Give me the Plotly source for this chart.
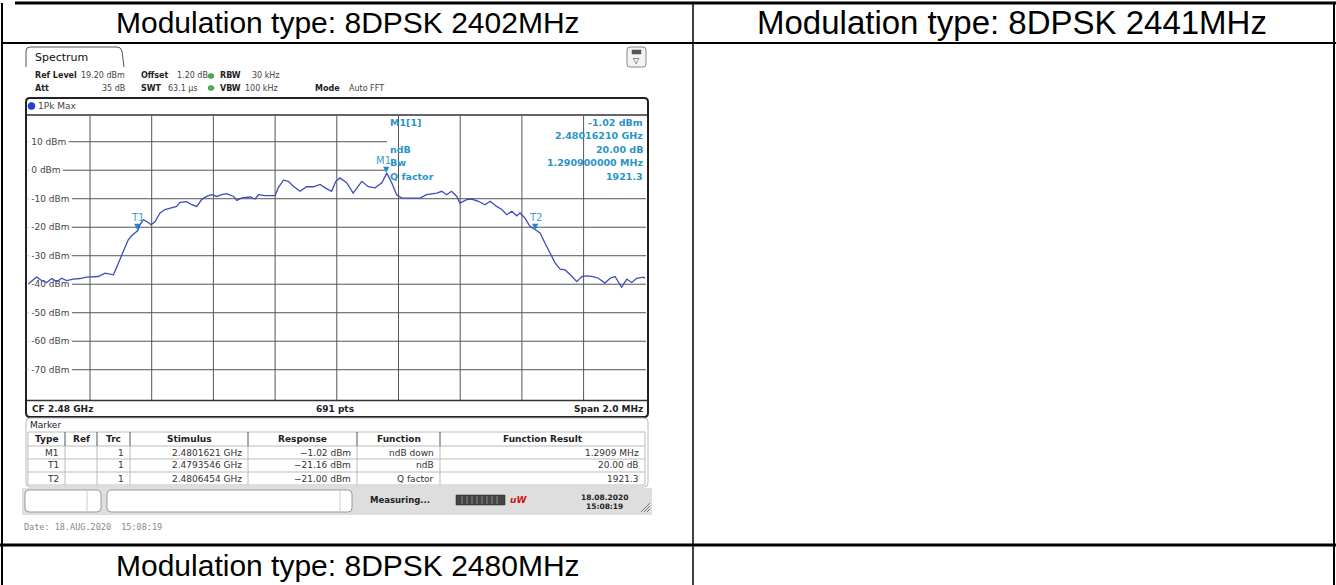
import plotly.graph_objects as go

W, H = 1336, 585


def X(px):
    return px / W


def Y(py):
    return 1 - py / H


# ---------------- data ----------------
cell_titles = ["Modulation type: 8DPSK 2402MHz", "Modulation type: 8DPSK 2441MHz",
               "Modulation type: 8DPSK 2480MHz"]

freq_mhz = [2479.000, 2479.027, 2479.043, 2479.060, 2479.076, 2479.092, 2479.108, 2479.124,
            2479.146, 2479.168, 2479.189, 2479.206, 2479.227, 2479.249, 2479.265, 2479.276,
            2479.292, 2479.303, 2479.313, 2479.324, 2479.335, 2479.355, 2479.362, 2479.373,
            2479.384, 2479.398, 2479.411, 2479.427, 2479.443, 2479.465, 2479.481, 2479.492,
            2479.513, 2479.530, 2479.546, 2479.562, 2479.578, 2479.594, 2479.611, 2479.627,
            2479.643, 2479.665, 2479.676, 2479.692, 2479.719, 2479.735, 2479.746, 2479.767,
            2479.800, 2479.810, 2479.827, 2479.843, 2479.859, 2479.881, 2479.902, 2479.924,
            2479.946, 2479.962, 2479.983, 2479.997, 2480.010, 2480.032, 2480.053, 2480.081,
            2480.102, 2480.124, 2480.146, 2480.162, 2480.178, 2480.194, 2480.210, 2480.237,
            2480.270, 2480.291, 2480.324, 2480.340, 2480.356, 2480.372, 2480.389, 2480.399,
            2480.421, 2480.437, 2480.459, 2480.480, 2480.497, 2480.518, 2480.535, 2480.551,
            2480.567, 2480.583, 2480.594, 2480.610, 2480.626, 2480.645, 2480.659, 2480.675,
            2480.691, 2480.708, 2480.724, 2480.740, 2480.757, 2480.778, 2480.794, 2480.810,
            2480.831, 2480.848, 2480.869, 2480.886, 2480.902, 2480.923, 2480.940, 2480.956,
            2480.972, 2480.994, 2481.000]
level_dbm = [-39.9, -37.5, -38.7, -39.4, -38.0, -39.1, -37.9, -38.7,
             -38.2, -38.0, -37.5, -37.4, -37.3, -36.1, -36.4, -36.7,
             -32.6, -29.7, -26.8, -24.4, -23.0, -21.16, -19.1, -17.4,
             -18.0, -19.1, -18.0, -15.0, -13.8, -13.2, -12.7, -11.3,
             -11.0, -12.1, -12.7, -10.3, -9.2, -8.6, -9.2, -8.6,
             -8.2, -9.2, -10.6, -9.7, -9.4, -10.1, -8.6, -8.9,
             -8.9, -6.2, -3.5, -3.9, -5.6, -7.4, -5.8, -5.8,
             -5.0, -6.2, -7.4, -3.9, -2.7, -4.4, -8.0, -3.9,
             -5.8, -6.2, -4.4, -1.02, -4.4, -8.6, -9.7, -9.8,
             -9.8, -8.6, -8.0, -7.4, -8.6, -7.4, -9.2, -11.5,
             -10.3, -10.1, -10.9, -12.1, -10.9, -12.7, -13.8, -15.6,
             -14.4, -16.0, -15.0, -16.8, -19.7, -21.0, -22.0, -25.6,
             -29.1, -32.6, -34.7, -35.0, -36.7, -39.1, -37.3, -37.1,
             -37.3, -37.9, -39.6, -37.9, -37.3, -41.1, -38.2, -39.4,
             -37.9, -37.5, -38.0]

ref_level = 19.2
y_range_db = 100
grid_levels = [10, 0, -10, -20, -30, -40, -50, -60, -70]
grid_freqs = [2479.2, 2479.4, 2479.6, 2479.8, 2480.0, 2480.2, 2480.4, 2480.6, 2480.8]
f_start, f_stop = 2479.0, 2481.0

marker_names = ["M1", "T1", "T2"]
marker_freq_ghz = [2.4801621, 2.4793546, 2.4806454]
marker_level = [-1.02, -21.16, -21.00]
marker_func = ["ndB down", "ndB", "Q factor"]
marker_result = ["1.2909 MHz", "20.00 dB", "1921.3"]

info_left = ["M1[1]", "", "ndB", "Bw", "Q factor"]
info_right = ["-1.02 dBm", "2.48016210 GHz", "20.00 dB", "1.290900000 MHz", "1921.3"]

table_headers = ["Type", "Ref", "Trc", "Stimulus", "Response", "Function", "Function Result"]

# ---------------- figure ----------------
FONT = "DejaVu Sans"
shapes = []
ann = []


def line(x0, y0, x1, y1, color="#000", w=1, layer="above"):
    shapes.append(dict(type="line", xref="paper", yref="paper", x0=X(x0), y0=Y(y0),
                       x1=X(x1), y1=Y(y1), line=dict(color=color, width=w), layer=layer))


def rect(x0, y0, x1, y1, fill="rgba(0,0,0,0)", color="#000", w=1, layer="above"):
    shapes.append(dict(type="rect", xref="paper", yref="paper", x0=X(x0), y0=Y(y1),
                       x1=X(x1), y1=Y(y0), fillcolor=fill,
                       line=dict(color=color, width=w), layer=layer))


def rrect(x0, y0, x1, y1, r=4, fill="rgba(0,0,0,0)", color="#000", w=1, layer="above"):
    def p(x, y):
        return f"{X(x)},{Y(y)}"
    path = (f"M {p(x0 + r, y0)} L {p(x1 - r, y0)} Q {p(x1, y0)} {p(x1, y0 + r)} "
            f"L {p(x1, y1 - r)} Q {p(x1, y1)} {p(x1 - r, y1)} L {p(x0 + r, y1)} "
            f"Q {p(x0, y1)} {p(x0, y1 - r)} L {p(x0, y0 + r)} Q {p(x0, y0)} {p(x0 + r, y0)} Z")
    shapes.append(dict(type="path", xref="paper", yref="paper", path=path, fillcolor=fill,
                       line=dict(color=color, width=w if w > 0 else 0), layer=layer))


def text(x, y, s, size=9, color="#222", anchor="left", bold=False, family=FONT):
    ann.append(dict(xref="paper", yref="paper", x=X(x), y=Y(y), text=f"<b>{s}</b>" if bold else s,
                    showarrow=False, xanchor=anchor, yanchor="middle",
                    font=dict(family=family, size=size, color=color)))


# outer document table
line(15, 3, 1336, 3, "#000", 3)
line(2, 3, 2, 585, "#000", 2)
line(693, 3, 693, 585, "#000", 1.5)
line(1334, 3, 1334, 585, "#000", 2)
line(2, 43, 1336, 43, "#000", 2)
line(0, 545, 1336, 545, "#000", 3)
text(348, 23, cell_titles[0], size=30, color="#000", anchor="center", family="Liberation Sans")
text(1012, 23, cell_titles[1], size=33, color="#000", anchor="center", family="Liberation Sans")
text(348, 565, cell_titles[2], size=30, color="#000", anchor="center", family="Liberation Sans")

# spectrum window header
tab = (f"M {X(26)},{Y(67)} L {X(26)},{Y(51)} Q {X(26)},{Y(47)} {X(30)},{Y(47)} "
       f"L {X(117)},{Y(47)} Q {X(121)},{Y(47)} {X(122)},{Y(51)} L {X(124)},{Y(67)}")
shapes.append(dict(type="path", xref="paper", yref="paper", path=tab,
                   line=dict(color="#555", width=1)))
text(33, 58, "Spectrum", size=11, color="#111")
rrect(627, 47, 646, 67, r=3, fill="#f4f4f4", color="#888", w=1)
rect(632, 50, 641, 54, fill="#555", color="#555", w=0.5)
text(636.5, 61, "▽", size=8, color="#333", anchor="center")

r1, r2 = 76, 88
hs = 8
text(33, r1, "Ref Level", bold=True, size=hs)
text(79, r1, "19.20 dBm", color="#444", size=hs)
text(139, r1, "Offset", bold=True, size=hs)
text(175, r1, "1.20 dB", color="#444", size=hs)
text(218, r1, "RBW", bold=True, size=hs)
text(250, r1, "30 kHz", color="#444", size=hs)
text(33, r2, "Att", bold=True, size=hs)
text(127, r2, "35 dB", color="#444", anchor="right", size=hs)
text(139, r2, "SWT", bold=True, size=hs)
text(166, r2, "63.1 µs", color="#444", size=hs)
text(218, r2, "VBW", bold=True, size=hs)
text(243, r2, "100 kHz", color="#444", size=hs)
text(313, r2, "Mode", bold=True, size=hs)
text(347, r2, "Auto FFT", color="#444", size=hs)
for yy in (r1, r2):
    shapes.append(dict(type="circle", xref="paper", yref="paper", x0=X(208), x1=X(214),
                       y0=Y(yy + 2.5), y1=Y(yy - 2.5), fillcolor="#4cae4c",
                       line=dict(color="#3a8f3a", width=0.5)))

# diagram container
rrect(26, 98, 648, 417, r=4, color="#222", w=2)
shapes.append(dict(type="circle", xref="paper", yref="paper", x0=X(28), x1=X(35),
                   y0=Y(109.5), y1=Y(102.5), fillcolor="#1f3fd8", line=dict(color="#10208a", width=0.5)))
text(36, 106, "1Pk Max", color="#444")
line(27, 115, 647, 115, "#333", 1.5)
line(27, 400.5, 647, 400.5, "#333", 1.5)
text(30, 408.5, "CF 2.48 GHz", bold=True)
text(335, 408.5, "691 pts", bold=True, anchor="center")
text(645, 408.5, "Span 2.0 MHz", bold=True, anchor="right")

# grid (shapes on data axes, below the trace)
y_bottom = ref_level - y_range_db
for f in grid_freqs:
    shapes.append(dict(type="line", xref="x", yref="y", x0=f, x1=f, y0=y_bottom, y1=ref_level,
                       line=dict(color="#555", width=1), layer="below"))
for lv in grid_levels:
    shapes.append(dict(type="line", xref="paper", yref="y", x0=X(28), x1=X(646), y0=lv, y1=lv,
                       line=dict(color="#555", width=1), layer="below"))
cw = {"-": 3.3, " ": 2.9, "d": 5.7, "B": 6.2, "m": 8.8}
for lv in grid_levels:
    lab = f"{lv} dBm"
    wpx = sum(cw.get(c, 5.75) for c in lab)
    shapes.append(dict(type="rect", xref="paper", yref="y", x0=X(28.5), x1=X(28.5 + wpx + 5),
                       y0=lv - 1.5, y1=lv + 1.5, fillcolor="#fff", line=dict(width=0),
                       layer="below"))
# marker info box mask
rect(387, 116, 646, 183, fill="#fff", color="rgba(0,0,0,0)", w=0, layer="below")

fig = go.Figure()
fig.add_trace(go.Scatter(x=freq_mhz, y=level_dbm, mode="lines",
                         line=dict(color="#3f4cb8", width=1.3), hoverinfo="skip"))

# markers on trace
mk = "#1f86cc"
for name, f, lv in zip(marker_names, marker_freq_ghz, marker_level):
    ann.append(dict(xref="x", yref="y", x=f * 1000, y=lv, text="▼", showarrow=False,
                    yshift=4, font=dict(family=FONT, size=8, color=mk)))
    ann.append(dict(xref="x", yref="y", x=f * 1000, y=lv, text=name, showarrow=False,
                    yshift=13, xshift=-3 if name == "M1" else 0,
                    font=dict(family=FONT, size=10, color="#3aa0d0")))

info_rows = [122, 135, 149, 162, 176]
for yy, l, rt in zip(info_rows, info_left, info_right):
    if l:
        text(388, yy, l, size=9.5, color="#2a94c8", bold=True)
    text(645, yy, rt, size=9.5, color="#2a94c8", bold=True, anchor="right")

# marker table
rrect(26, 418, 648, 487, r=4, fill="#fff", color="#bbb", w=1)
text(28, 424.5, "Marker", color="#222")
edges = [28, 65, 97, 130, 248, 357, 440, 645]
hy0, hy1 = 432, 446
rows_y = [446, 459, 472, 485]
line(28, hy0, 645, hy0, "#bbb", 1)
for yy in rows_y:
    line(28, yy, 645, yy, "#bbb", 1)
for i, e in enumerate(edges):
    line(e, hy0, e, hy1, "#555" if 0 < i < len(edges) - 1 else "#bbb", 1)
    line(e, hy1, e, 485, "#bbb", 1)
for i, h in enumerate(table_headers):
    text((edges[i] + edges[i + 1]) / 2, (hy0 + hy1) / 2, h, bold=True, anchor="center")
for r, (name, f, lv, fn, res) in enumerate(zip(marker_names, marker_freq_ghz, marker_level,
                                                marker_func, marker_result)):
    yc = (rows_y[r] + rows_y[r + 1]) / 2
    cells = [name, "", "1", f"{f:.7f} GHz", f"{lv:.2f} dBm".replace("-", "\u2212"), fn, res]
    for i, c in enumerate(cells):
        if c:
            text(edges[i + 1] - 4, yc, c, color="#333", anchor="right")

# status bar
rect(22, 488, 652, 515, fill="#dedede", color="rgba(0,0,0,0)", w=0)
rrect(25, 490, 101, 512, r=4, fill="#fff", color="#999", w=1)
line(87, 491, 87, 511, "#ccc", 1)
rrect(107, 490, 352, 512, r=4, fill="#fff", color="#999", w=1)
line(340, 491, 340, 511, "#ccc", 1)
text(368, 500, "Measuring...", size=8.5, bold=True, color="#222")
rect(456, 495, 505, 505, fill="#444", color="#222", w=0.5)
for sx in range(462, 500, 5):
    line(sx, 496, sx, 504, "#888", 1)
text(518, 500, "<i>uW</i>", size=9, bold=True, color="#d01010", anchor="center")
text(604, 497, "18.08.2020", size=7.5, bold=True, color="#222", anchor="center")
text(604, 506, "15:08:19", size=7.5, bold=True, color="#222", anchor="center")
for k in range(3):
    line(641 + 3 * k, 512, 650, 503 + 3 * k, "#777", 1)
text(22, 527, "Date: 18.AUG.2020  15:08:19", size=8.5, color="#888", family="DejaVu Sans Mono")

fig.update_layout(
    width=W, height=H, margin=dict(l=0, r=0, t=0, b=0),
    paper_bgcolor="#fff", plot_bgcolor="rgba(0,0,0,0)", showlegend=False,
    xaxis=dict(domain=[X(28.3), X(645.3)], range=[f_start, f_stop], showgrid=False,
               zeroline=False, showticklabels=False, showline=False, fixedrange=True),
    yaxis=dict(domain=[Y(400.5), Y(115.5)], range=[ref_level - y_range_db, ref_level],
               showgrid=False, zeroline=False, showline=False, ticks="",
               tickmode="array", tickvals=grid_levels,
               ticktext=[f"{v} dBm" for v in grid_levels],
               ticklabelposition="inside", layer="below traces",
               tickfont=dict(family=FONT, size=9, color="#444"), fixedrange=True),
    shapes=shapes, annotations=ann,
)
fig.write_html("out.html", config={"displayModeBar": False},
               post_script="document.body.style.margin='0';document.body.style.overflow='hidden';")
